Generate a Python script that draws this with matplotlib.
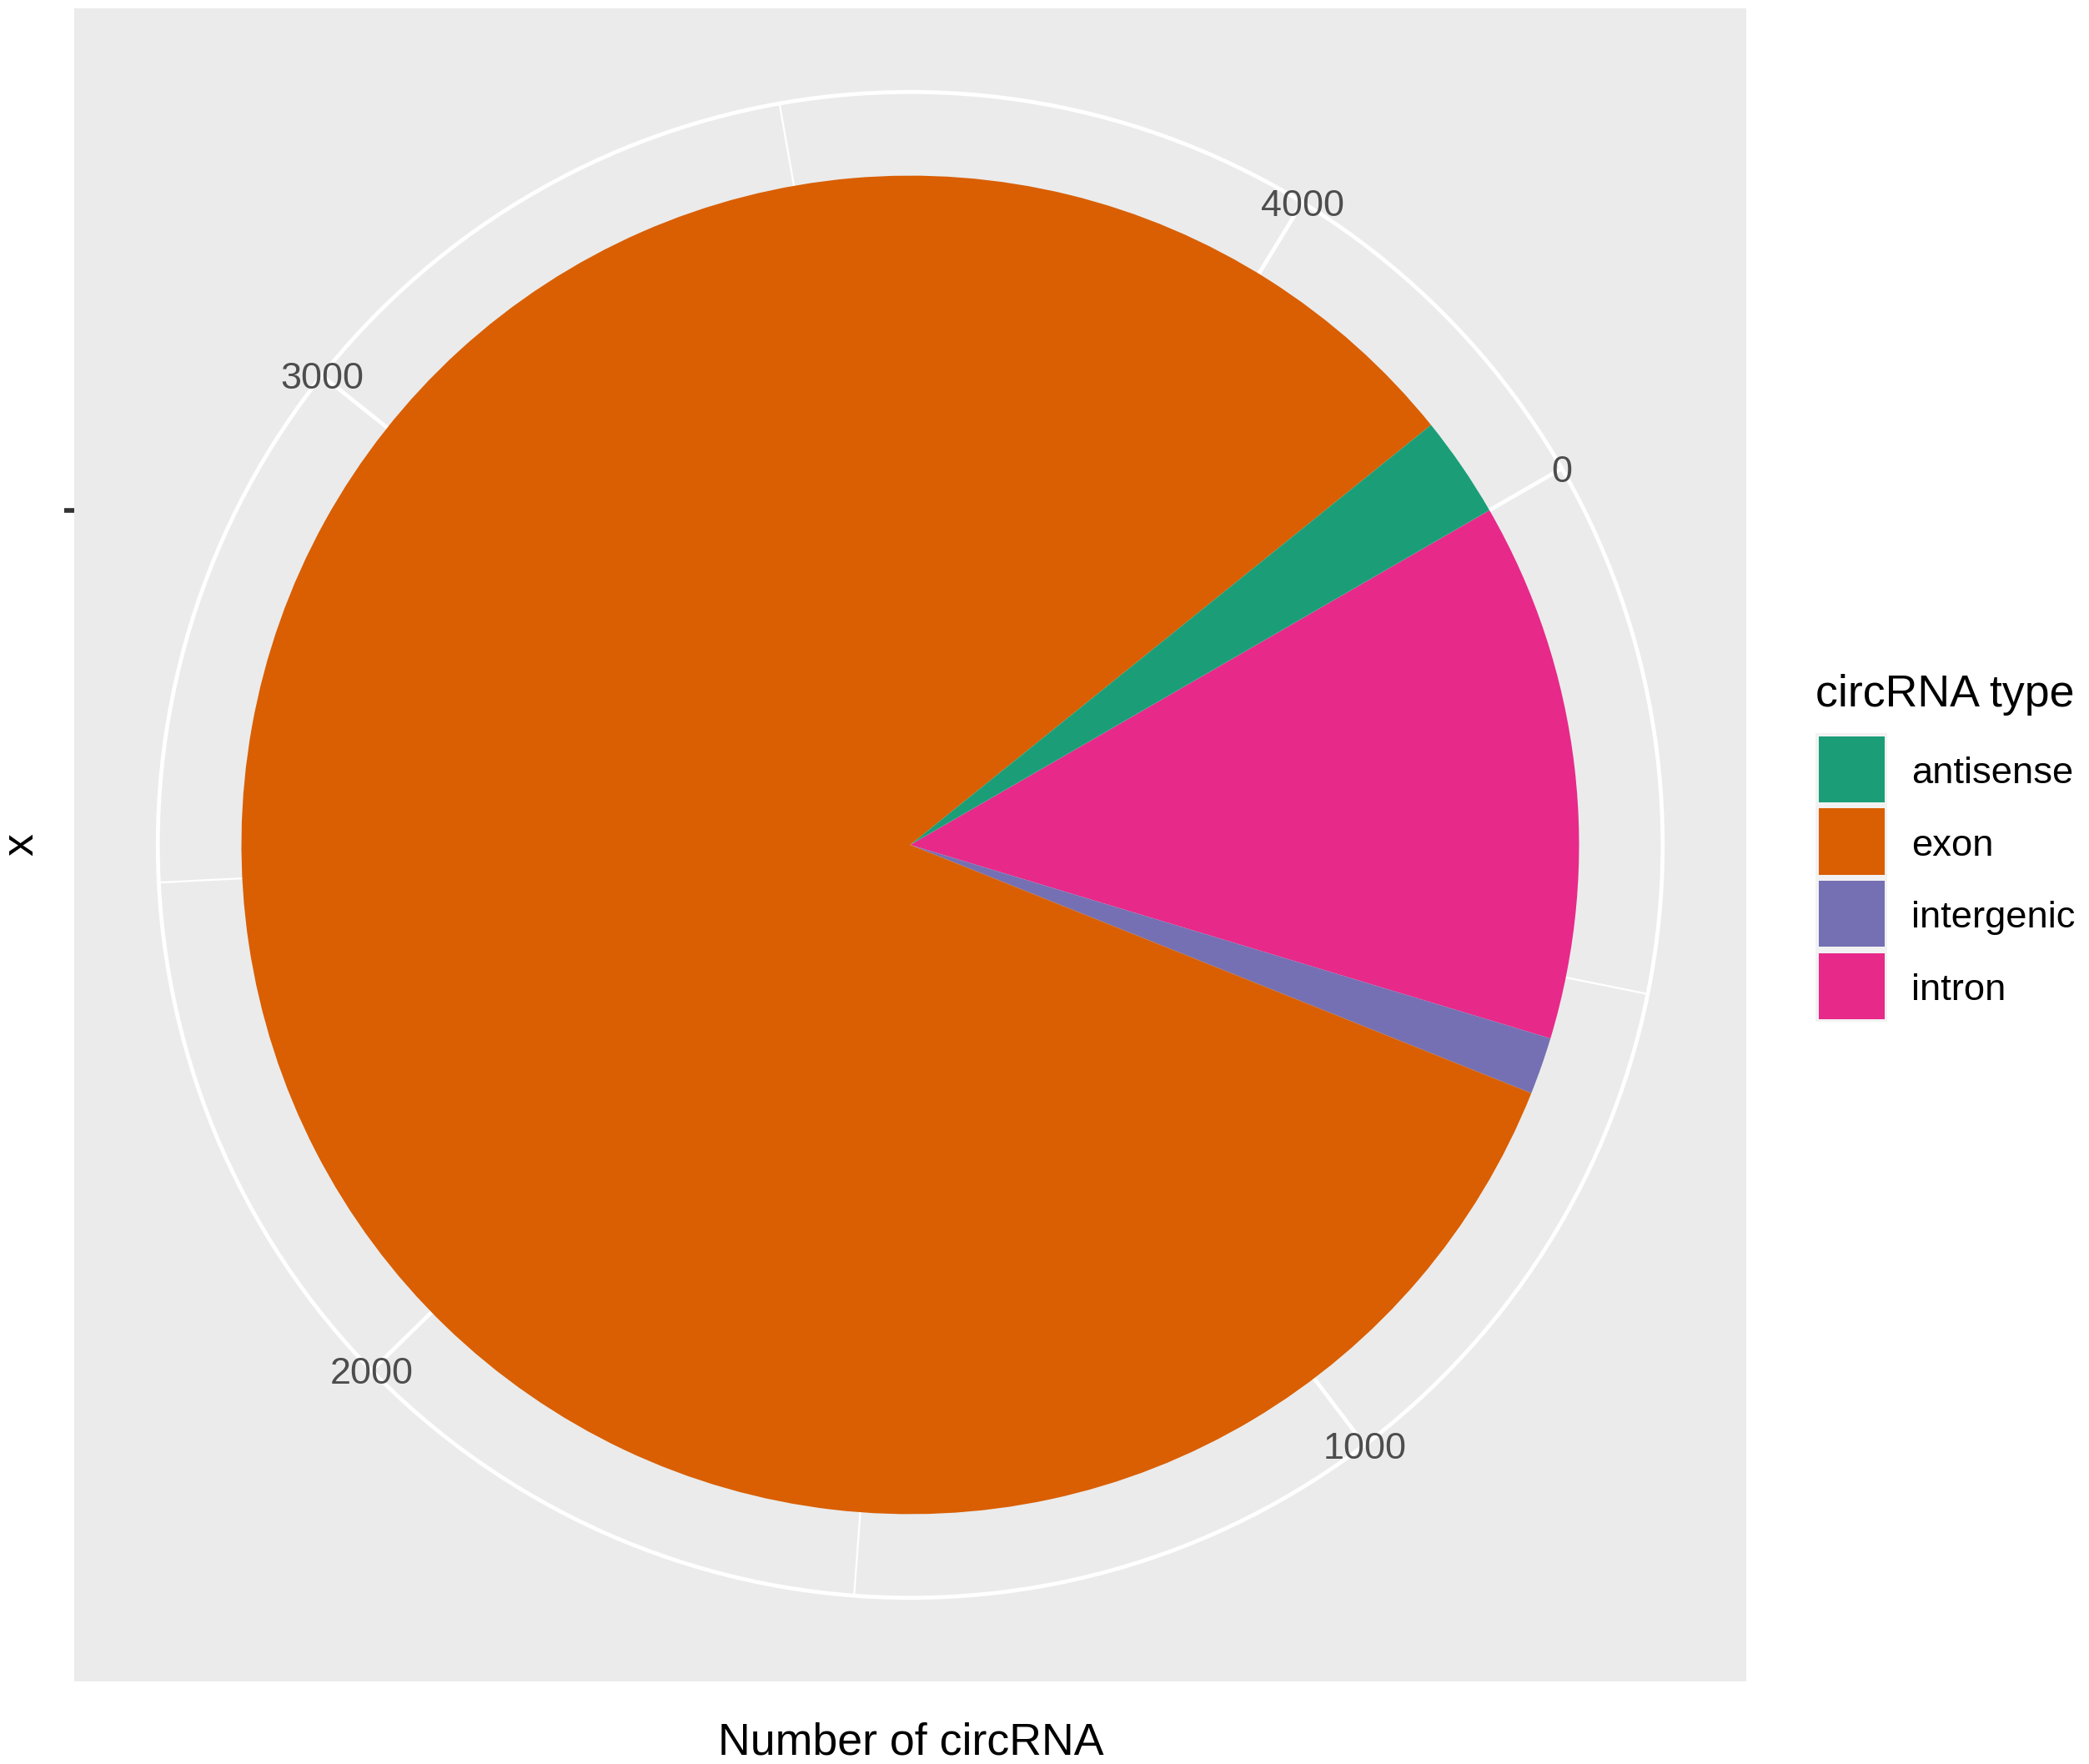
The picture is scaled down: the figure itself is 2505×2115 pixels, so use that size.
import numpy as np
import matplotlib
matplotlib.use("Agg")
import matplotlib.pyplot as plt
from matplotlib.patches import Rectangle, Circle
from matplotlib.transforms import offset_copy

plt.rcParams['font.family'] = ['Liberation Sans', 'DejaVu Sans']

# ---- data ----
categories = ["antisense", "exon", "intergenic", "intron"]
counts = [107, 3613, 60, 565]
colors = ["#1B9E77", "#D95F02", "#7570B3", "#E7298A"]
major_breaks = [0, 1000, 2000, 3000, 4000]
major_labels = ["0", "1000", "2000", "3000", "4000"]
minor_breaks = [500, 1500, 2500, 3500]
legend_title = "circRNA type"
x_title = "Number of circRNA"
y_title = "x"

W, H = 2505, 2115
DPI = 300
fig = plt.figure(figsize=(W / DPI, H / DPI), dpi=DPI)
fig.patch.set_facecolor("white")

def fx(px):
    return px / W

def fy(py):
    return 1 - py / H

# panel
pl, pt, pr, pb = 89, 10, 2094, 2016
ax = fig.add_axes([fx(pl), fy(pb), (pr - pl) / W, (pb - pt) / H])

START = 60.0  # degrees clockwise from top where 0 sits
R_PIE = 0.4
R_OUT = 0.45
total = float(sum(counts))

# stacking order: reverse of factor levels, clockwise from start
order = list(range(len(categories)))[::-1]
wedges, _ = ax.pie([counts[i] for i in order],
                   colors=[colors[i] for i in order],
                   radius=R_PIE, center=(0, 0),
                   startangle=90 - START, counterclock=False,
                   wedgeprops=dict(linewidth=0, zorder=3))

ax.set_xlim(-0.5, 0.5)
ax.set_ylim(-0.5, 0.5)
ax.set_aspect('auto')
ax.set_frame_on(True)
for s in ax.spines.values():
    s.set_visible(False)
ax.set_facecolor("#EBEBEB")

def theta_of(v):
    return np.deg2rad(START + v / total * 360.0)

# grid: outer circle and theta lines
ax.add_patch(Circle((0, 0), R_OUT, fill=False, edgecolor="white", linewidth=1.15, zorder=1))
for b in minor_breaks:
    t = theta_of(b)
    ax.plot([0, R_OUT * np.sin(t)], [0, R_OUT * np.cos(t)], color="white", linewidth=0.55, zorder=1,
            solid_capstyle='butt')
for b in major_breaks:
    t = theta_of(b)
    ax.plot([0, R_OUT * np.sin(t)], [0, R_OUT * np.cos(t)], color="white", linewidth=1.15, zorder=1,
            solid_capstyle='butt')

# theta labels
lab_tr = offset_copy(ax.transData, fig=fig, x=0, y=-16, units='dots')
for b, lab in zip(major_breaks, major_labels):
    t = theta_of(b)
    ax.text(R_OUT * np.sin(t), R_OUT * np.cos(t), lab, transform=lab_tr,
            ha='center', va='baseline', fontsize=10.8, color="#4D4D4D", zorder=5)

# r axis tick (discrete x at middle of bar radius)
ax.set_xticks([])
ax.set_yticks([R_PIE / 2])
ax.set_yticklabels([""])
ax.tick_params(axis='y', length=2.9, width=1.35, color="#333333", direction='out')

# axis titles
fig.text(fx(1092), fy(2104), x_title, ha='center', va='baseline', fontsize=12.9, color='black')
fig.text(fx(39), fy(1013), y_title, ha='center', va='baseline', rotation=90,
         rotation_mode='anchor', fontsize=12.9, color='black')

# legend
fig.text(fx(2177), fy(847), legend_title, ha='left', va='baseline', fontsize=12.9, color='black')
key_top = 879
key_h = 86.5
key_l, key_r = 2177, 2263
fig.patches.append(Rectangle((fx(key_l), fy(key_top + key_h * len(categories))),
                             (key_r - key_l) / W, key_h * len(categories) / H,
                             transform=fig.transFigure, facecolor="#F2F2F2", edgecolor='none'))
for i, (cat, col) in enumerate(zip(categories, colors)):
    top = key_top + key_h * i
    fig.patches.append(Rectangle((fx(key_l + 3.5), fy(top + 4 + 79)), 79 / W, 79 / H,
                                 transform=fig.transFigure, facecolor=col, edgecolor='none'))
    fig.text(fx(2292), fy(top + key_h / 2 + 17), cat, ha='left', va='baseline',
             fontsize=10.9, color='black')

fig.savefig("out.png", dpi=DPI)
